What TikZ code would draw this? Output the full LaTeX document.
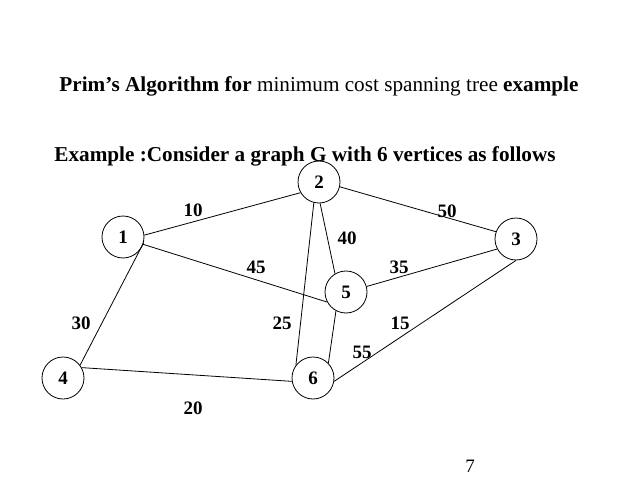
\documentclass[tikz,border=0pt]{standalone}
\usepackage{fontspec}
\setmainfont{Liberation Serif}
\begin{document}
\begin{tikzpicture}[x=1pt,y=-1pt,
  vtx/.style={circle,draw,line width=0.8pt,minimum size=42pt,inner sep=0pt,font=\fontsize{19}{22}\selectfont\bfseries},
  wt/.style={font=\fontsize{19}{22}\selectfont\bfseries,inner sep=0pt},
  edge/.style={line width=0.8pt}]
\useasboundingbox (0,0) rectangle (638,479);
\node[font=\fontsize{21.2}{25}\selectfont,inner sep=0pt,anchor=base] (title) at (319,91) {\textbf{Prim’s Algorithm for} minimum cost spanning tree \textbf{example}};
\node[font=\fontsize{21.2}{25}\selectfont\bfseries,inner sep=0pt,anchor=base] (sub) at (305,161) {Example :Consider a graph G with 6 vertices as follows};
\node[vtx] (n1) at (123,237) {1};
\node[vtx] (n2) at (319,182) {2};
\node[vtx] (n3) at (516,239) {3};
\node[vtx] (n4) at (63,378) {4};
\node[vtx] (n5) at (346,292) {5};
\node[vtx] (n6) at (313,378) {6};
\draw[edge] (n1.5) -- (n2.210);
\draw[edge] (n2.-13) -- (n3.160);
\draw[edge] (n1.-20) -- (n5.208);
\draw[edge] (n2.-87) -- (n5.121);
\draw[edge] (n5.15) -- (n3.208);
\draw[edge] (n1.-16) -- (n4.37);
\draw[edge] (n2.256) -- (n6.143);
\draw[edge] (n5.242) -- (n6.44);
\draw[edge] (n3.-90) -- (n6.-9);
\draw[edge] (n4.29) -- (n6.189);
\node[wt] (w10) at (193,210) {10};
\node[wt] (w45) at (256,267) {45};
\node[wt] (w30) at (81,323) {30};
\node[wt] (w25) at (282,323) {25};
\node[wt] (w20) at (193,408) {20};
\node[wt] (w50) at (447,211) {50};
\node[wt] (w40) at (347,238) {40};
\node[wt] (w35) at (399,267) {35};
\node[wt] (w15) at (400,323) {15};
\node[wt] (w55) at (362,352) {55};
\node[font=\fontsize{19}{22}\selectfont,inner sep=0pt] (pg) at (470,466) {7};
\end{tikzpicture}
\end{document}
